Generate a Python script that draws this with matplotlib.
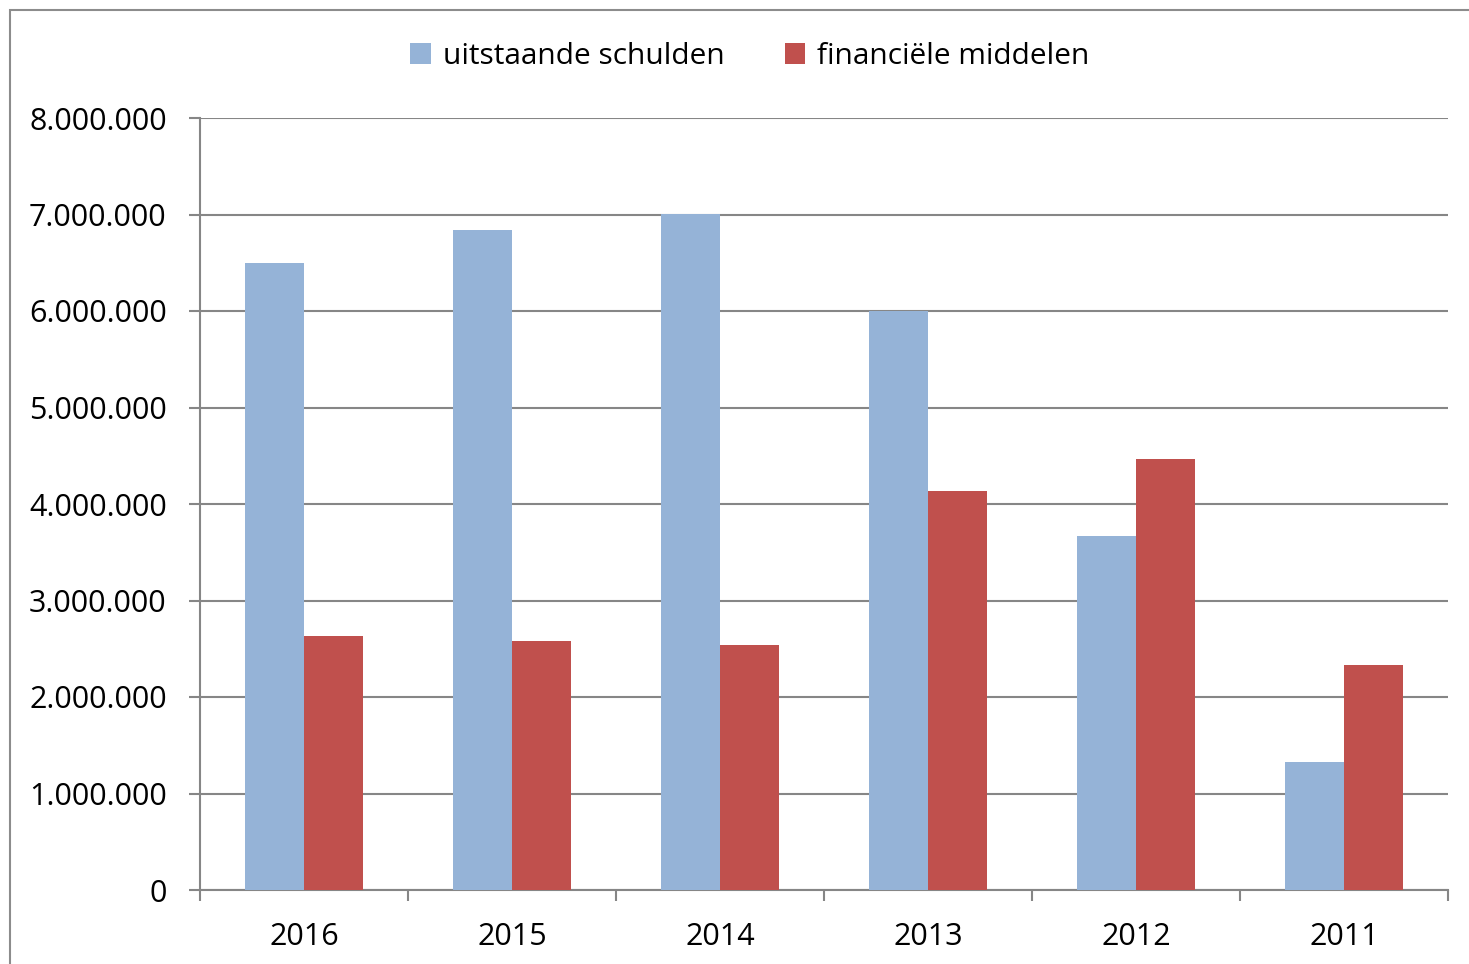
import matplotlib
matplotlib.use("Agg")
import matplotlib.pyplot as plt
from matplotlib.ticker import FuncFormatter, FixedLocator
from matplotlib.patches import Rectangle
import numpy as np

years = ["2016", "2015", "2014", "2013", "2012", "2011"]
schulden = [6500000, 6840000, 7005000, 6000000, 3670000, 1325000]
middelen = [2632000, 2580000, 2540000, 4135000, 4466000, 2332000]
series_names = ["uitstaande schulden", "financiële middelen"]
colors = ["#95B3D7", "#C0504D"]

plt.rcParams['font.family'] = ['Open Sans', 'DejaVu Sans']

W, H = 1469, 964
fig = plt.figure(figsize=(W/100, H/100), dpi=100)
ax = fig.add_axes([200/W, 1-890/H, (1448-200)/W, (890-118)/H])

x = np.arange(len(years))
bw = 0.286
ax.bar(x - bw/2, schulden, bw, color=colors[0], label=series_names[0], zorder=3)
ax.bar(x + bw/2, middelen, bw, color=colors[1], label=series_names[1], zorder=3)

ax.set_xlim(-0.5, len(years) - 0.5)
ax.set_ylim(0, 8000000)
ax.set_yticks(np.arange(0, 8000001, 1000000))
ax.yaxis.set_major_formatter(FuncFormatter(lambda v, p: f"{int(v):,}".replace(",", ".")))
ax.set_xticks(x)
ax.set_xticklabels(years)
ax.xaxis.set_minor_locator(FixedLocator(np.arange(-0.5, len(years), 1)))

grid_c = "#868686"
ax.grid(axis='y', color=grid_c, linewidth=1.5, zorder=0)
for s in ['top', 'right']:
    ax.spines[s].set_visible(False)
for s in ['left', 'bottom']:
    ax.spines[s].set_color(grid_c)
    ax.spines[s].set_linewidth(1.5)
ax.tick_params(axis='y', length=8, width=1.5, color=grid_c, labelsize=22, pad=16, direction='out',
               labelcolor='black')
ax.tick_params(axis='x', which='major', length=0, labelsize=22, pad=23, labelcolor='black')
ax.tick_params(axis='x', which='minor', length=8, width=1.5, color=grid_c, direction='out')

leg = fig.legend(loc='center', bbox_to_anchor=(750/W, 1-56/H), ncol=2, frameon=False,
                 fontsize=21.5, handlelength=0.7, handleheight=0.7, handletextpad=0.4,
                 columnspacing=2.0)

fig.patches.append(Rectangle((10/W, -0.1), 1.2, 1 - 10/H + 0.1, transform=fig.transFigure,
                             fill=False, edgecolor="#8C8C8C", linewidth=1.5))

fig.savefig("out.png", dpi=100)
